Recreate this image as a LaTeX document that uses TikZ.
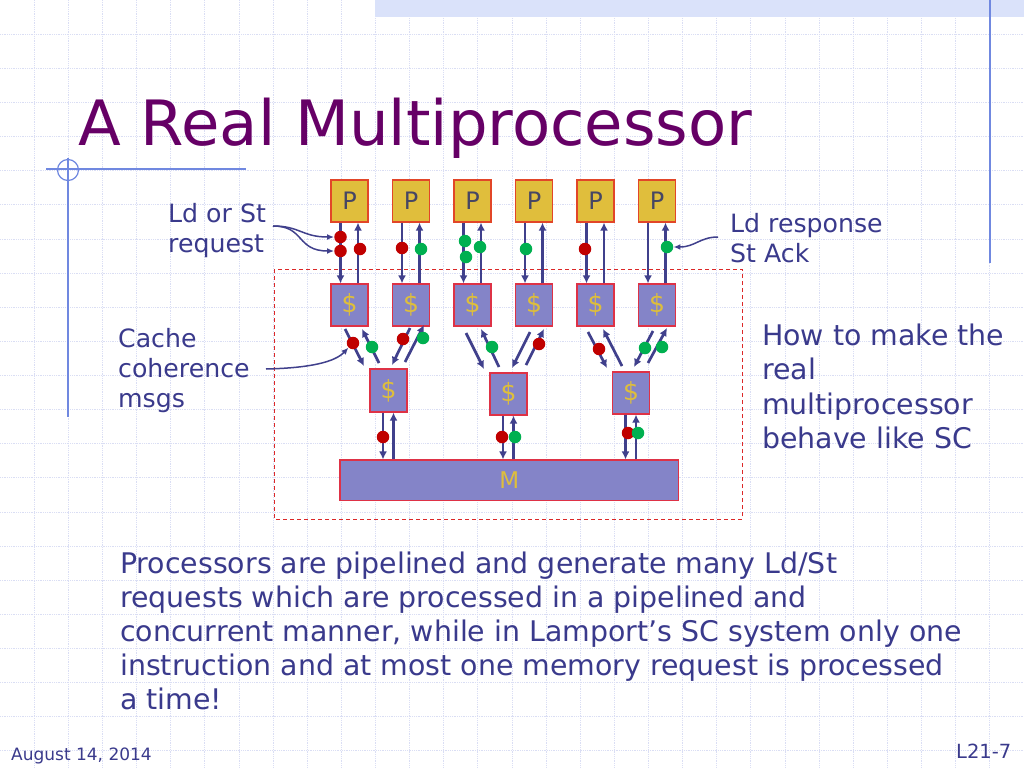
\documentclass[tikz,border=0pt]{standalone}
\usepackage{fontspec}
\setmainfont{DejaVu Sans}
\usetikzlibrary{arrows.meta,calc}
\definecolor{titlecol}{RGB}{102,0,102}
\definecolor{textcol}{RGB}{58,58,140}
\definecolor{gridcol}{RGB}{218,222,244}
\definecolor{barcol}{RGB}{218,226,250}
\definecolor{decocol}{RGB}{112,136,224}
\definecolor{pfill}{RGB}{224,190,60}
\definecolor{pborder}{RGB}{226,70,40}
\definecolor{cfill}{RGB}{132,132,200}
\definecolor{cborder}{RGB}{222,50,70}
\definecolor{arrcol}{RGB}{64,64,140}
\definecolor{reddot}{RGB}{192,0,0}
\definecolor{greendot}{RGB}{0,176,80}
\definecolor{dashcol}{RGB}{220,40,40}
\definecolor{goldtext}{RGB}{222,190,60}
\definecolor{ptext}{RGB}{70,70,100}
\begin{document}
\begin{tikzpicture}[x=1pt,y=-1pt,
  pbox/.style={draw=pborder,fill=pfill,line width=1.2pt,minimum width=37pt,minimum height=42pt,inner sep=0pt,text=ptext,font=\fontsize{24}{24}\selectfont},
  cbox/.style={draw=cborder,fill=cfill,line width=1.2pt,minimum width=37pt,minimum height=42pt,inner sep=0pt,text=goldtext,font=\fontsize{25}{25}\selectfont},
  arr/.style={draw=arrcol,line width=2.7pt,-{Latex[length=8pt,width=8pt]}},
  larr/.style={draw=arrcol,line width=1.5pt,-{Latex[length=7pt,width=6pt]}},
  rdot/.style={circle,fill=reddot,minimum size=12.5pt,inner sep=0pt},
  gdot/.style={circle,fill=greendot,minimum size=12.5pt,inner sep=0pt},
  body/.style={text=textcol,font=\fontsize{28.4}{34}\selectfont,anchor=base west,inner sep=0pt},
  lbl/.style={text=textcol,font=\fontsize{25.2}{30}\selectfont,anchor=base west,inner sep=0pt},
  foot/.style={text=textcol,font=\fontsize{17}{17}\selectfont,anchor=base west,inner sep=0pt}]
\useasboundingbox (0,0) rectangle (1024,768);
\fill[white] (0,0) rectangle (1024,768);
% background grid
\foreach \k in {1,...,29} {\draw[gridcol,line width=0.8pt,densely dotted] ({\k*34.13},0) -- ({\k*34.13},768);}
\foreach \k in {1,...,22} {\draw[gridcol,line width=0.8pt,densely dotted] (0,{\k*34.13}) -- (1024,{\k*34.13});}
% template decorations
\fill[barcol] (375,0) rectangle (1024,17);
\draw[decocol,line width=1.5pt] (990,0) -- (990,263);
\draw[decocol,line width=1.2pt] (46,169) -- (246,169);
\draw[decocol,line width=1.2pt] (68,158) -- (68,417);
\draw[decocol,line width=1.2pt] (68,170) circle (10.5);
% title
\node[text=titlecol,font=\fontsize{62.5}{70}\selectfont,anchor=base west,inner sep=0pt] (title) at (78,145.5) {A Real Multiprocessor};
% dashed frame
\draw[dashcol,line width=1pt,dash pattern=on 4pt off 3pt] (274,269) rectangle (742,519);
% processors and L1 caches
\foreach \i/\x in {1/349.5,2/411,3/472.5,4/534,5/595.5,6/657} {
  \node[pbox] (p\i) at (\x,201) {P};
  \node[cbox] (c\i) at (\x,305) {\$};
  \draw[arr] ($(p\i.south)+(-9,0)$) -- ($(c\i.north)+(-9,0)$);
  \draw[arr] ($(c\i.north)+(8.5,0)$) -- ($(p\i.south)+(8.5,0)$);
}
% L2 caches and memory
\node[cbox,minimum height=43pt] (la) at (388.5,390.5) {\$};
\node[cbox] (lb) at (508.5,394) {\$};
\node[cbox] (lc) at (631,393) {\$};
\node[draw=cborder,fill=cfill,line width=1.2pt,minimum width=338.5pt,minimum height=40.5pt,inner sep=0pt,text=goldtext,font=\fontsize{23}{23}\selectfont] (m) at (509.3,480.3) {M};
\foreach \n in {la,lb,lc} {
  \draw[arr] ($(\n.south)+(-5.5,0)$) -- ($(m.north)!($(\n.south)+(-5.5,0)$)!(m.north east)$);
  \draw[arr] ($(m.north)!($(\n.south)+(5,0)$)!(m.north east)$) -- ($(\n.south)+(5,0)$);
}
% diagonal coherence arrows
\draw[arr] (345,329) -- (364,366);
\draw[arr] (379,363) -- (362,329);
\draw[arr] (410,328) -- (392,365);
\draw[arr] (405,362) -- (424,325);
\draw[arr] (466,333) -- (484,369);
\draw[arr] (499,367) -- (481,329);
\draw[arr] (530,332) -- (512,368);
\draw[arr] (526,365) -- (544,329);
\draw[arr] (588,332) -- (607,368);
\draw[arr] (622,366) -- (603,329);
\draw[arr] (653,331) -- (634,367);
\draw[arr] (648,363) -- (667,328);
% message dots
\node[rdot] (r1) at (340.5,237) {};
\node[rdot] (r2) at (340.5,251) {};
\node[rdot] (r3) at (360,249) {};
\node[rdot] (r4) at (402,248) {};
\node[rdot] (r5) at (585,249) {};
\node[rdot] (r6) at (353,343) {};
\node[rdot] (r7) at (403,339) {};
\node[rdot] (r8) at (539,344) {};
\node[rdot] (r9) at (599,349) {};
\node[rdot] (r10) at (383,437) {};
\node[rdot] (r11) at (502,437) {};
\node[rdot] (r12) at (628,433) {};
\node[gdot] (g1) at (421,249) {};
\node[gdot] (g2) at (465,241) {};
\node[gdot] (g3) at (466,257) {};
\node[gdot] (g4) at (480,247) {};
\node[gdot] (g5) at (526,249) {};
\node[gdot] (g6) at (667,247) {};
\node[gdot] (g7) at (372,347) {};
\node[gdot] (g8) at (423,338) {};
\node[gdot] (g9) at (492,347) {};
\node[gdot] (g10) at (645,348) {};
\node[gdot] (g11) at (662,347) {};
\node[gdot] (g12) at (515,437) {};
\node[gdot] (g13) at (638,433) {};
% labels
\node[lbl] (ld1) at (168,222) {Ld or St};
\node[lbl] (ld2) at (168,252) {request};
\node[lbl] (cc1) at (118,347) {Cache};
\node[lbl] (cc2) at (118,377) {coherence};
\node[lbl] (cc3) at (118,407) {msgs};
\node[lbl] (lr1) at (730,232) {Ld response};
\node[lbl] (lr2) at (730,262) {St Ack};
\node[body] (hw1) at (762,345) {How to make the};
\node[body] (hw2) at (762,379.5) {real};
\node[body] (hw3) at (762,414) {multiprocessor};
\node[body] (hw4) at (762,448.5) {behave like SC};
% label connectors
\coordinate (ldstart) at (273,226);
\draw[larr] (ldstart) .. controls (300,226) and (302,237) .. (r1.west);
\draw[larr] (ldstart) .. controls (305,226) and (296,251) .. (r2.west);
\coordinate (ccstart) at (266,369);
\draw[larr] (ccstart) .. controls (310,368) and (335,362) .. (r6.south west);
\coordinate (lrstart) at (718,237);
\draw[larr] (lrstart) .. controls (700,237) and (695,247) .. (g6.east);
% body text
\node[body] (t1) at (120,573) {Processors are pipelined and generate many Ld/St};
\node[body] (t2) at (120,607) {requests which are processed in a pipelined and};
\node[body] (t3) at (120,641) {concurrent manner, while in Lamport’s SC system only one};
\node[body] (t4) at (120,675) {instruction and at most one memory request is processed};
\node[body] (t5) at (120,709) {a time!};
% footer
\node[foot] (date) at (11,760) {August 14, 2014};
\node[foot,font=\fontsize{19.5}{19.5}\selectfont] (slide) at (956,758) {L21-7};
\end{tikzpicture}
\end{document}
